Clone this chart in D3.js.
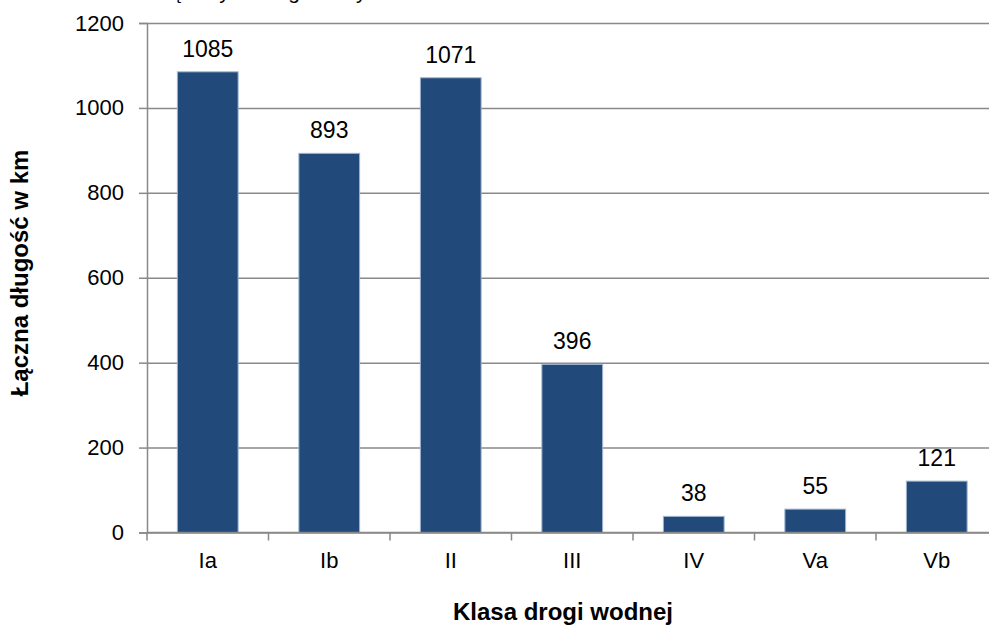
<!DOCTYPE html>
<html>
<head>
<meta charset="utf-8">
<script src="https://cdn.jsdelivr.net/npm/d3@7"></script>
<style>
  html, body { margin: 0; padding: 0; background: #fff; }
  svg { display: block; font-family: "Liberation Sans", Arial, sans-serif; }
</style>
</head>
<body>
<svg id="chart" width="989" height="627"></svg>
<script>
// Waterway classes and their total length in km
const categories = ["Ia", "Ib", "II", "III", "IV", "Va", "Vb"];
const lengths = [1085, 893, 1071, 396, 38, 55, 121];
const yTicks = [0, 200, 400, 600, 800, 1000, 1200];
const titleText = "Sieć śródlądowych dróg wodnych w Polsce";
const yTitle = "Łączna długość w km";
const xTitle = "Klasa drogi wodnej";

const svg = d3.select("#chart");
const plot = { left: 147, right: 997.5, top: 23, bottom: 532.5 };

const x = d3.scaleBand()
  .domain(categories)
  .range([plot.left, plot.right])
  .paddingInner(0.5)
  .paddingOuter(0.25);

const y = d3.scaleLinear()
  .domain([0, 1200])
  .range([plot.bottom, plot.top]);

const gridColor = "#898989";
const fontSize = 22;

// Title, pushed up against the top edge so only its descenders remain
const title = svg.append("text")
  .attr("y", -1.5)
  .attr("font-size", 21)
  .attr("fill", "#000")
  .text(titleText);
{
  const node = title.node();
  const idx = titleText.indexOf("ą");
  const before = node.getSubStringLength(0, idx);
  const half = node.getSubStringLength(idx, 1) / 2;
  title.attr("x", 175 - before - half);
}

// Horizontal gridlines
svg.append("g")
  .attr("transform", `translate(${plot.left},0)`)
  .call(d3.axisLeft(y).tickValues(yTicks).tickSize(-(plot.right - plot.left)).tickFormat(""))
  .call(g => g.select(".domain").remove())
  .call(g => g.selectAll("line").attr("stroke", gridColor).attr("stroke-width", 1.5));

// Y axis with tick stubs and labels
svg.append("g")
  .attr("transform", `translate(${plot.left},0)`)
  .call(d3.axisLeft(y).tickValues(yTicks).tickSize(8).tickPadding(15).tickFormat(d3.format("d")))
  .call(g => g.select(".domain").attr("stroke", gridColor).attr("stroke-width", 1.5))
  .call(g => g.selectAll(".tick line").attr("stroke", gridColor).attr("stroke-width", 1.5))
  .call(g => g.selectAll(".tick text")
    .attr("font-size", fontSize)
    .attr("font-family", "Liberation Sans, Arial, sans-serif")
    .attr("fill", "#000"));

// Bars
svg.append("g")
  .selectAll("rect")
  .data(categories)
  .join("rect")
  .attr("x", d => x(d))
  .attr("width", x.bandwidth())
  .attr("y", (d, i) => y(lengths[i]))
  .attr("height", (d, i) => y(0) - y(lengths[i]))
  .attr("fill", "#214a7b")
  .attr("stroke", "#9fb4cf")
  .attr("stroke-width", 1);

// Value labels
svg.append("g")
  .selectAll("text")
  .data(categories)
  .join("text")
  .attr("x", d => x(d) + x.bandwidth() / 2)
  .attr("y", (d, i) => y(lengths[i]) - 15)
  .attr("text-anchor", "middle")
  .attr("font-size", 23)
  .attr("fill", "#000")
  .text((d, i) => lengths[i]);

// X axis line with boundary ticks between categories
const step = x.step();
const boundaries = categories.map(c => x(c) - step * 0.25).concat([plot.right]);
const xAxis = svg.append("g");
xAxis.append("line")
  .attr("x1", plot.left).attr("x2", plot.right)
  .attr("y1", y(0)).attr("y2", y(0))
  .attr("stroke", gridColor).attr("stroke-width", 1.5);
xAxis.selectAll("line.b")
  .data(boundaries)
  .join("line")
  .attr("class", "b")
  .attr("x1", d => d).attr("x2", d => d)
  .attr("y1", y(0)).attr("y2", y(0) + 8)
  .attr("stroke", gridColor).attr("stroke-width", 1.5);

// Category labels
svg.append("g")
  .selectAll("text")
  .data(categories)
  .join("text")
  .attr("x", d => x(d) + x.bandwidth() / 2)
  .attr("y", 568)
  .attr("text-anchor", "middle")
  .attr("font-size", fontSize)
  .attr("fill", "#000")
  .text(d => d);

// Axis titles
svg.append("text")
  .attr("x", 563)
  .attr("y", 620)
  .attr("text-anchor", "middle")
  .attr("font-size", 24)
  .attr("font-weight", "bold")
  .attr("fill", "#000")
  .text(xTitle);

svg.append("text")
  .attr("transform", "translate(28,273) rotate(-90)")
  .attr("text-anchor", "middle")
  .attr("font-size", 24)
  .attr("font-weight", "bold")
  .attr("fill", "#000")
  .text(yTitle);
</script>
</body>
</html>
